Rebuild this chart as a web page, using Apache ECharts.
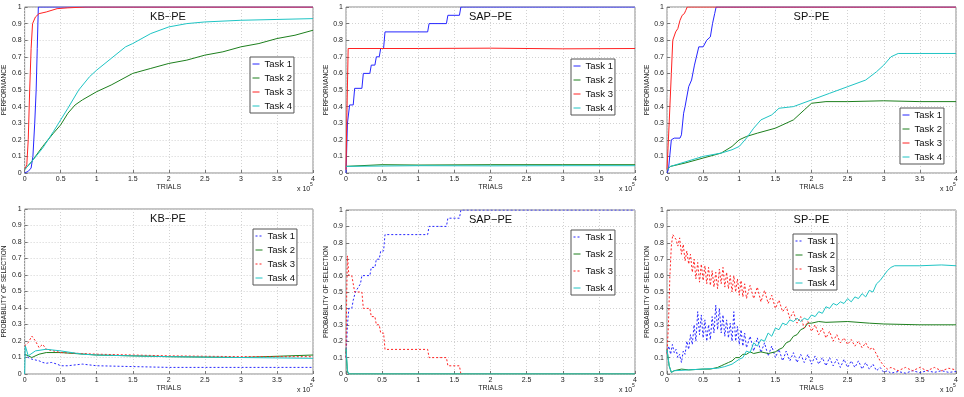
<!DOCTYPE html>
<html>
<head>
<meta charset="utf-8">
<script src="https://cdn.jsdelivr.net/npm/echarts@6/dist/echarts.min.js"></script>
<style>
html, body { margin: 0; padding: 0; background: #fff; }
#main { width: 964px; height: 397px; }
</style>
</head>
<body>
<div id="main"></div>
<script>
// panel titles, task names
var panelTitles = ['KB\u2212PE', 'SAP\u2212PE', 'SP\u2212PE', 'KB\u2212PE', 'SAP\u2212PE', 'SP\u2212PE'];
var taskNames = ['Task 1', 'Task 2', 'Task 3', 'Task 4'];
var taskColors = ['#2626ff', '#1d7f1d', '#ff2222', '#1fc4c4'];

// ---- top row: performance (x in units of 1e5 trials) ----
var kbPerf1 = [[0,0],[0.05,0.01],[0.09,0.03],[0.115,0.1],[0.14,0.3],[0.16,0.5],[0.175,0.75],[0.19,1],[4,1]];
var kbPerf2 = [[0,0.02],[0.1,0.07],[0.25,0.16],[0.4,0.24],[0.5,0.29],[0.6,0.36],[0.7,0.41],[0.8,0.44],[1.0,0.49],[1.2,0.53],[1.5,0.6],[1.75,0.63],[2.0,0.66],[2.25,0.68],[2.5,0.71],[2.75,0.73],[3.0,0.76],[3.25,0.78],[3.5,0.81],[3.75,0.83],[4,0.86]];
var kbPerf3 = [[0,0.02],[0.03,0.05],[0.05,0.2],[0.07,0.5],[0.09,0.75],[0.11,0.9],[0.15,0.94],[0.2,0.96],[0.3,0.97],[0.45,0.99],[0.6,0.995],[0.85,1],[4,1]];
var kbPerf4 = [[0,0.02],[0.1,0.07],[0.25,0.15],[0.4,0.25],[0.5,0.32],[0.6,0.39],[0.75,0.5],[0.9,0.58],[1.0,0.62],[1.2,0.69],[1.4,0.76],[1.5,0.78],[1.75,0.84],[2.0,0.88],[2.25,0.9],[2.5,0.91],[3.0,0.92],[3.5,0.925],[4,0.93]];

var sapPerf1 = [[0,0],[0.02,0.3],[0.05,0.41],[0.1,0.41],[0.12,0.51],[0.22,0.51],[0.24,0.6],[0.33,0.6],[0.35,0.65],[0.4,0.65],[0.42,0.7],[0.46,0.7],[0.48,0.75],[0.52,0.75],[0.54,0.85],[1.13,0.85],[1.15,0.9],[1.39,0.9],[1.41,0.95],[1.57,0.95],[1.59,1],[4,1]];
var sapPerf2 = [[0,0.04],[0.5,0.05],[1,0.048],[2,0.05],[3,0.05],[4,0.05]];
var sapPerf3 = [[0,0.02],[0.01,0.3],[0.03,0.75],[1,0.75],[2,0.752],[3,0.748],[4,0.75]];
var sapPerf4 = [[0,0.04],[1,0.044],[2,0.043],[3,0.044],[4,0.044]];

var spPerf1 = [[0,0],[0.02,0.02],[0.06,0.2],[0.1,0.21],[0.18,0.21],[0.2,0.23],[0.23,0.36],[0.25,0.4],[0.3,0.52],[0.34,0.56],[0.38,0.65],[0.44,0.76],[0.5,0.76],[0.55,0.8],[0.6,0.82],[0.63,0.9],[0.66,0.96],[0.68,1],[4,1]];
var spPerf2 = [[0,0.02],[0.05,0.04],[0.25,0.06],[0.5,0.09],[0.75,0.12],[0.9,0.16],[1.0,0.2],[1.1,0.22],[1.25,0.24],[1.5,0.27],[1.75,0.32],[1.9,0.38],[2.0,0.42],[2.2,0.43],[2.5,0.43],[3.0,0.435],[3.5,0.43],[4,0.43]];
var spPerf3 = [[0,0.02],[0.03,0.3],[0.06,0.6],[0.08,0.8],[0.12,0.85],[0.15,0.87],[0.18,0.92],[0.21,0.95],[0.24,0.96],[0.26,0.98],[0.28,1],[4,1]];
var spPerf4 = [[0,0.02],[0.05,0.04],[0.5,0.1],[0.75,0.12],[0.9,0.14],[1.0,0.16],[1.1,0.21],[1.2,0.27],[1.3,0.32],[1.45,0.35],[1.55,0.39],[1.75,0.4],[2.0,0.44],[2.25,0.48],[2.5,0.52],[2.75,0.56],[2.9,0.61],[3.0,0.65],[3.1,0.7],[3.2,0.72],[3.5,0.72],[4,0.72]];

// ---- bottom row: probability of selection ----
var kbSel1 = [[0,0.12],[0.05,0.1],[0.1,0.09],[0.2,0.08],[0.25,0.07],[0.3,0.065],[0.37,0.07],[0.45,0.06],[0.5,0.05],[0.6,0.05],[0.8,0.06],[1.0,0.05],[1.5,0.045],[2,0.04],[3,0.04],[4,0.04]];
var kbSel2 = [[0,0.12],[0.1,0.1],[0.2,0.12],[0.3,0.13],[0.5,0.13],[1.0,0.115],[2,0.105],[3,0.1],[4,0.115]];
var kbSel3 = [[0,0.17],[0.05,0.19],[0.1,0.23],[0.15,0.2],[0.2,0.16],[0.25,0.18],[0.3,0.15],[0.5,0.13],[1.0,0.12],[1.5,0.115],[2,0.11],[3,0.105],[4,0.105]];
var kbSel4 = [[0,0],[0.01,0.17],[0.05,0.11],[0.15,0.14],[0.3,0.15],[0.5,0.14],[0.8,0.12],[1.0,0.115],[2,0.105],[3,0.1],[4,0.095]];

var sapSel1 = [[0,0.1],[0.02,0.3],[0.04,0.4],[0.08,0.4],[0.1,0.45],[0.13,0.5],[0.2,0.55],[0.22,0.6],[0.33,0.6],[0.35,0.65],[0.4,0.65],[0.42,0.7],[0.46,0.7],[0.48,0.75],[0.52,0.75],[0.54,0.85],[1.13,0.85],[1.15,0.9],[1.39,0.9],[1.41,0.95],[1.57,0.95],[1.59,1],[4,1]];
var sapSel2 = [[0,0.15],[0.02,0.01],[0.05,0],[4,0]];
var sapSel3 = [[0,0.1],[0.01,0.5],[0.02,0.72],[0.04,0.6],[0.08,0.6],[0.1,0.55],[0.12,0.5],[0.22,0.5],[0.24,0.4],[0.33,0.4],[0.35,0.35],[0.4,0.35],[0.42,0.3],[0.46,0.3],[0.48,0.25],[0.52,0.25],[0.54,0.15],[1.13,0.15],[1.15,0.1],[1.39,0.1],[1.41,0.05],[1.57,0.05],[1.59,0]];
var sapSel4 = [[0,0.16],[0.02,0.02],[0.04,0],[4,0]];

// SP-PE selection curves are noisy bands: values alternate between read band edges
var spSel1 = [[0,0.13],[0.025,0.17],[0.05,0.12],[0.075,0.18],[0.1,0.13],[0.125,0.15],[0.15,0.1],[0.175,0.12],[0.2,0.07],[0.225,0.14],[0.25,0.12],[0.275,0.2],[0.3,0.15],[0.325,0.24],[0.35,0.18],[0.375,0.3],[0.4,0.2],[0.425,0.38],[0.45,0.24],[0.475,0.36],[0.5,0.22],[0.525,0.33],[0.55,0.2],[0.575,0.3],[0.6,0.21],[0.625,0.35],[0.65,0.25],[0.675,0.42],[0.7,0.27],[0.725,0.4],[0.75,0.25],[0.775,0.36],[0.8,0.23],[0.825,0.33],[0.85,0.22],[0.875,0.31],[0.9,0.2],[0.925,0.38],[0.95,0.2],[0.975,0.29],[1.0,0.18],[1.025,0.27],[1.05,0.17],[1.075,0.25],[1.1,0.16],[1.15,0.23],[1.2,0.14],[1.25,0.22],[1.3,0.13],[1.35,0.19],[1.4,0.11],[1.45,0.17],[1.5,0.1],[1.55,0.15],[1.6,0.08],[1.65,0.14],[1.7,0.08],[1.75,0.13],[1.8,0.07],[1.85,0.12],[1.9,0.07],[1.95,0.12],[2.0,0.06],[2.05,0.11],[2.1,0.06],[2.15,0.1],[2.2,0.05],[2.25,0.1],[2.3,0.05],[2.35,0.09],[2.4,0.04],[2.45,0.09],[2.5,0.04],[2.55,0.08],[2.6,0.04],[2.65,0.08],[2.7,0.03],[2.75,0.07],[2.8,0.03],[2.85,0.06],[2.9,0.02],[2.95,0.04],[3.0,0.01],[3.05,0.02],[3.1,0.005],[3.2,0.015],[3.3,0.005],[3.4,0.02],[3.5,0.008],[3.6,0.02],[3.7,0.01],[3.8,0.02],[3.9,0.01],[4,0.015]];
var spSel2 = [[0,0.15],[0.03,0.05],[0.06,0.01],[0.1,0.02],[0.2,0.03],[0.3,0.025],[0.5,0.03],[0.6,0.03],[0.7,0.04],[0.75,0.05],[0.8,0.06],[0.85,0.07],[0.9,0.08],[0.95,0.1],[1.0,0.1],[1.05,0.12],[1.1,0.12],[1.15,0.135],[1.2,0.125],[1.3,0.135],[1.4,0.125],[1.5,0.135],[1.55,0.15],[1.6,0.16],[1.65,0.19],[1.7,0.2],[1.75,0.23],[1.8,0.24],[1.85,0.27],[1.9,0.28],[1.95,0.31],[2.0,0.31],[2.1,0.32],[2.2,0.315],[2.5,0.32],[2.8,0.31],[3,0.305],[3.5,0.3],[4,0.3]];
var spSel3 = [[0,0.12],[0.02,0.3],[0.04,0.6],[0.06,0.78],[0.08,0.85],[0.1,0.84],[0.125,0.82],[0.15,0.78],[0.175,0.83],[0.2,0.73],[0.225,0.79],[0.25,0.69],[0.275,0.75],[0.3,0.67],[0.325,0.73],[0.35,0.62],[0.375,0.7],[0.4,0.58],[0.425,0.68],[0.45,0.56],[0.475,0.67],[0.5,0.57],[0.525,0.66],[0.55,0.55],[0.575,0.65],[0.6,0.54],[0.625,0.63],[0.65,0.53],[0.675,0.62],[0.7,0.52],[0.725,0.64],[0.75,0.55],[0.775,0.65],[0.8,0.53],[0.825,0.62],[0.85,0.52],[0.875,0.6],[0.9,0.5],[0.925,0.6],[0.95,0.5],[0.975,0.58],[1.0,0.48],[1.025,0.57],[1.05,0.47],[1.075,0.55],[1.1,0.46],[1.15,0.54],[1.2,0.46],[1.25,0.53],[1.3,0.44],[1.35,0.51],[1.4,0.43],[1.45,0.48],[1.5,0.4],[1.55,0.45],[1.6,0.38],[1.65,0.41],[1.7,0.34],[1.75,0.38],[1.8,0.31],[1.85,0.35],[1.9,0.28],[1.95,0.32],[2.0,0.26],[2.05,0.3],[2.1,0.24],[2.15,0.28],[2.2,0.22],[2.25,0.26],[2.3,0.2],[2.35,0.24],[2.4,0.19],[2.45,0.22],[2.5,0.18],[2.55,0.21],[2.6,0.17],[2.65,0.2],[2.7,0.16],[2.75,0.19],[2.8,0.15],[2.85,0.16],[2.9,0.12],[2.95,0.08],[3.0,0.05],[3.05,0.03],[3.1,0.04],[3.2,0.02],[3.3,0.04],[3.4,0.02],[3.5,0.04],[3.6,0.02],[3.7,0.04],[3.8,0.02],[3.9,0.035],[4,0.025]];
var spSel4 = [[0,0.15],[0.03,0.05],[0.06,0.01],[0.1,0.02],[0.3,0.025],[0.5,0.03],[0.7,0.035],[0.8,0.045],[0.9,0.06],[1.0,0.09],[1.05,0.1],[1.1,0.14],[1.15,0.13],[1.2,0.19],[1.25,0.17],[1.3,0.21],[1.35,0.2],[1.4,0.25],[1.45,0.23],[1.5,0.28],[1.55,0.27],[1.6,0.31],[1.65,0.3],[1.7,0.33],[1.75,0.32],[1.8,0.34],[1.85,0.32],[1.9,0.34],[1.95,0.33],[2.0,0.36],[2.05,0.35],[2.1,0.38],[2.15,0.37],[2.2,0.41],[2.25,0.4],[2.3,0.43],[2.35,0.42],[2.4,0.44],[2.45,0.43],[2.5,0.46],[2.55,0.44],[2.6,0.47],[2.65,0.46],[2.7,0.49],[2.75,0.47],[2.8,0.51],[2.85,0.5],[2.9,0.55],[2.95,0.57],[3.0,0.6],[3.05,0.63],[3.1,0.65],[3.15,0.66],[3.5,0.66],[3.8,0.665],[4,0.66]];

var panelData = [
  [kbPerf1, kbPerf2, kbPerf3, kbPerf4],
  [sapPerf1, sapPerf2, sapPerf3, sapPerf4],
  [spPerf1, spPerf2, spPerf3, spPerf4],
  [kbSel1, kbSel2, kbSel3, kbSel4],
  [sapSel1, sapSel2, sapSel3, sapSel4],
  [spSel1, spSel2, spSel3, spSel4]
];

var FONT = 'Liberation Sans, Arial, sans-serif';
var grids = [
  { left: 23, top: 7, width: 290, height: 166 },
  { left: 346, top: 7, width: 289, height: 166 },
  { left: 667, top: 7, width: 289, height: 166 },
  { left: 23, top: 209, width: 290, height: 165 },
  { left: 346, top: 210, width: 289, height: 164 },
  { left: 667, top: 210, width: 289, height: 164 }
];
var legendPos = [
  { left: 250, top: 57, itemGap: 4 },
  { left: 571, top: 59, itemGap: 4 },
  { left: 900, top: 108, itemGap: 4 },
  { left: 253, top: 229, itemGap: 4 },
  { left: 571, top: 230, itemGap: 7 },
  { left: 793, top: 234, itemGap: 4 }
];

var dotted = [2, 2];

var dom = document.getElementById('main');
var myChart = echarts.init(dom, null, { renderer: 'canvas' });

var option = {
  animation: false,
  backgroundColor: '#fff',
  grid: [],
  xAxis: [],
  yAxis: [],
  legend: [],
  series: [],
  graphic: []
};

grids.forEach(function (g, p) {
  var bottomRow = p >= 3;
  option.grid.push({
    left: g.left, top: g.top, width: g.width, height: g.height,
    show: true, borderColor: '#8a8a8a', borderWidth: 1, backgroundColor: '#fff'
  });
  option.xAxis.push({
    type: 'value', gridIndex: p, min: 0, max: 4, interval: 0.5,
    name: 'TRIALS', nameLocation: 'middle', nameGap: 7,
    nameTextStyle: { fontSize: 7, fontFamily: FONT, color: '#222' },
    axisLine: { show: false },
    axisTick: { inside: true, length: 3, lineStyle: { color: '#777' } },
    axisLabel: { fontSize: 7, fontFamily: FONT, color: '#222', margin: 3 },
    splitLine: { show: true, lineStyle: { color: '#d2d2d2', type: [1, 2] } }
  });
  option.yAxis.push({
    type: 'value', gridIndex: p, min: 0, max: 1, interval: 0.1,
    name: bottomRow ? 'PROBABILITY OF SELECTION' : 'PERFORMANCE',
    nameLocation: 'middle', nameGap: 12,
    nameTextStyle: { fontSize: 6.5, fontFamily: FONT, color: '#222' },
    axisLine: { show: false },
    axisTick: { inside: true, length: 3, lineStyle: { color: '#777' } },
    axisLabel: { fontSize: 7, fontFamily: FONT, color: '#222', margin: 3 },
    splitLine: { show: true, lineStyle: { color: '#d2d2d2', type: [1, 2] } }
  });
  var lp = legendPos[p];
  option.legend.push({
    left: lp.left, top: lp.top, orient: 'vertical', itemGap: lp.itemGap,
    itemWidth: 7, itemHeight: 8, padding: [2, 2, 2, 2],
    borderColor: '#555', borderWidth: 1, backgroundColor: '#fff',
    selectedMode: false,
    textStyle: { fontSize: 9.5, fontFamily: FONT, color: '#111' },
    data: taskNames.map(function (n, i) {
      var dashedTask = bottomRow && (i === 0 || i === 2);
      return {
        name: n,
        lineStyle: { type: dashedTask ? dotted : 'solid', width: 1 },
        itemStyle: { opacity: 0 }
      };
    })
  });
  panelData[p].forEach(function (d, i) {
    var dashedTask = bottomRow && (i === 0 || i === 2);
    option.series.push({
      name: taskNames[i], type: 'line', xAxisIndex: p, yAxisIndex: p,
      data: d, showSymbol: false, symbol: 'none',
      lineStyle: { color: taskColors[i], width: 1, type: dashedTask ? dotted : 'solid' },
      itemStyle: { color: taskColors[i] },
      emphasis: { disabled: true }
    });
  });
  // title inside the plot area
  option.graphic.push({
    type: 'text', x: g.left + g.width / 2, y: g.top + 10, silent: true,
    style: { text: panelTitles[p], font: '11px ' + FONT, fill: '#111', align: 'center', verticalAlign: 'middle' }
  });
  // x 10^5 exponent
  var ey = g.top + g.height + 16;
  option.graphic.push({
    type: 'text', x: g.left + g.width - 16, y: ey, silent: true,
    style: { text: 'x 10', font: '7px ' + FONT, fill: '#222', align: 'left', verticalAlign: 'middle' }
  });
  option.graphic.push({
    type: 'text', x: g.left + g.width - 3, y: ey - 4, silent: true,
    style: { text: '5', font: '5px ' + FONT, fill: '#222', align: 'left', verticalAlign: 'middle' }
  });
});

if (option && typeof option === 'object') {
  myChart.setOption(option);
}

window.addEventListener('resize', myChart.resize);
</script>
</body>
</html>
